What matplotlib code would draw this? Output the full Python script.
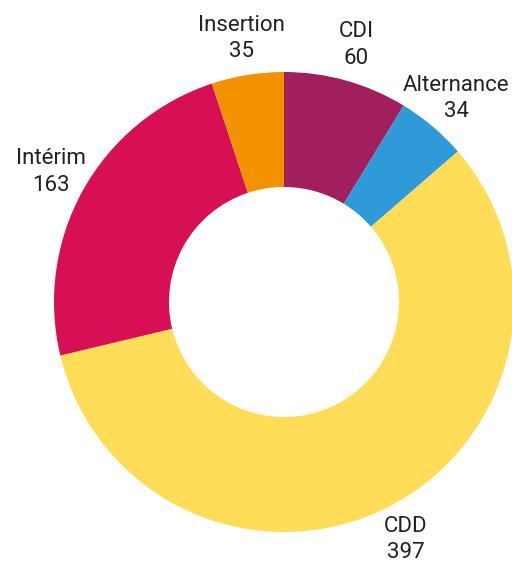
import matplotlib
matplotlib.use("Agg")
import matplotlib.pyplot as plt
from matplotlib import font_manager

labels = ["CDI", "Alternance", "CDD", "Intérim", "Insertion"]
values = [60, 34, 397, 163, 35]
colors = ["#A21F5E", "#2E9BD8", "#FFDD59", "#D70F54", "#F39200"]

names = {f.name for f in font_manager.fontManager.ttflist}
family = "Liberation Sans Narrow" if "Liberation Sans Narrow" in names else "Roboto"

fig = plt.figure(figsize=(5.12, 5.69), dpi=100)
ax = fig.add_axes([0, 0, 1, 1])

texts = [f"{l}\n{v}" for l, v in zip(labels, values)]
wedges, txts = ax.pie(values, labels=texts, colors=colors, startangle=90,
                      counterclock=False, labeldistance=1.16,
                      wedgeprops=dict(width=0.5, linewidth=0),
                      textprops=dict(fontsize=16, family=family, color="#222222",
                                     ha="center", va="center", linespacing=1.35))
for t in txts:
    t.set_horizontalalignment("center")

ax.set_aspect("auto")
ax.set_xlim(-284 / 230, (512 - 284) / 230)
ax.set_ylim(-(569 - 302) / 230, 302 / 230)
ax.axis("off")

fig.savefig("out.png", dpi=100)
